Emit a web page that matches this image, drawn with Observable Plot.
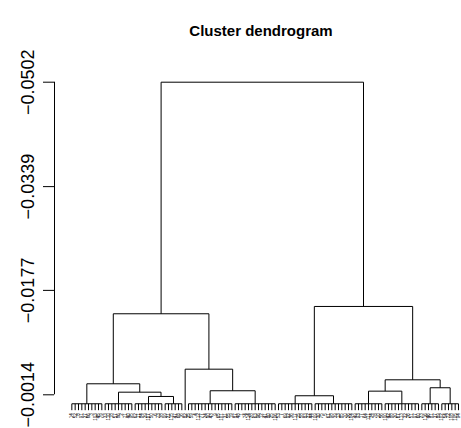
<!DOCTYPE html>
<html><head><meta charset="utf-8">
<script src="https://cdn.jsdelivr.net/npm/d3@7"></script>
<script src="https://cdn.jsdelivr.net/npm/@observablehq/plot@0.6"></script>
<style>body{margin:0;background:#fff;} svg{display:block;}</style>
</head><body><div id="chart"></div>
<script>
const chartTitle = "Cluster dendrogram";
const yTicks = [-0.0502, -0.0339, -0.0177, -0.0014];
// leaf groups (left to right), each joined at height ~0
const groupSizes = [10, 9, 9, 6, 1, 14, 13, 11, 12, 9, 11, 6, 6];
const leafLabels = [
  "14","52","8","91","27","66","3","103","45","79",
  "33","110","18","57","86","2","71","40","95",
  "62","11","84","29","107","50","6","73","38",
  "99","21","115","47","68","16",
  "82",
  "35","59","4","112","77","24","90","43","9","65","101","31","55","19",
  "87","48","1","74","114","28","63","96","12","41","80","25","106",
  "53","7","69","92","36","117","15","58","83","22","44",
  "109","30","75","5","61","98","39","13","85","70","26","104",
  "49","93","17","64","111","34","78","10","56",
  "100","42","88","20","67","113","32","76","51","97","60",
  "23","116","46","81","37","89",
  "102","54","72","108","105","94"
];
const combHeight = 0;
const leafTip = 0.001;
// merges: children are groups "g#" or earlier merges "m#"
const mergeLeft  = ["g2","g1","g0","g5","g4","m2","g7","g9","g11","m7","m6","m5"];
const mergeRight = ["g3","m0","m1","g6","m3","m4","g8","g10","g12","m8","m9","m10"];
const mergeHeight = [-0.00114, -0.00181, -0.00312, -0.00203, -0.0054, -0.01405,
                     -0.00125, -0.00197, -0.0025, -0.00374, -0.01519, -0.0502];
const xDomain = [-5.2, 116.9];

// build geometry in data units (x = leaf order index, y = height)
const segs = [];
const nodes = {};
let start = 0;
groupSizes.forEach((n, g) => {
  const first = start, last = start + n - 1;
  for (let i = first; i <= last; i++) segs.push({x1: i, y1: leafTip, x2: i, y2: n > 1 ? combHeight : leafTip});
  if (n > 1) segs.push({x1: first, y1: combHeight, x2: last, y2: combHeight});
  nodes["g" + g] = {x: (first + last) / 2, y: n > 1 ? combHeight : leafTip};
  start += n;
});
mergeHeight.forEach((h, m) => {
  const L = nodes[mergeLeft[m]], R = nodes[mergeRight[m]];
  segs.push({x1: L.x, y1: L.y, x2: L.x, y2: h});
  segs.push({x1: R.x, y1: R.y, x2: R.x, y2: h});
  segs.push({x1: L.x, y1: h, x2: R.x, y2: h});
  nodes["m" + m] = {x: (L.x + R.x) / 2, y: h};
});
const leaves = leafLabels.map((label, i) => ({i, label}));

const plot = Plot.plot({
  width: 461,
  height: 428,
  marginLeft: 54,
  marginRight: 0,
  marginTop: 0,
  marginBottom: 0,
  style: {fontFamily: "'Liberation Sans', Arial, sans-serif", background: "#fff", color: "#000"},
  x: {domain: xDomain, axis: null},
  y: {domain: [yTicks[0], yTicks[yTicks.length - 1]], range: [81.7, 394.3], axis: null},
  marks: [
    Plot.link(segs, {x1: "x1", y1: "y1", x2: "x2", y2: "y2", stroke: "#000", strokeWidth: 1}),
    Plot.text(leaves, {x: "i", y: () => leafTip, text: "label", rotate: -90, textAnchor: "end", dy: 3, fontSize: 4.6, fill: "#000"}),
    Plot.axisY(yTicks, {anchor: "left", tickSize: 11, tickFormat: () => "", label: null}),
    Plot.ruleX([xDomain[0]], {y1: () => yTicks[0], y2: () => yTicks[yTicks.length - 1], stroke: "#000"}),
    Plot.text(yTicks, {y: d => d, frameAnchor: "left", text: d => "\u2212" + Math.abs(d).toFixed(4), rotate: -90, textAnchor: "middle", lineAnchor: "middle", dx: -26, fontSize: 18, fill: "#000"}),
    Plot.text([chartTitle], {frameAnchor: "top", dy: 31, dx: 3, lineAnchor: "middle", fontSize: 15, fontWeight: "bold", fill: "#000"})
  ]
});
document.getElementById("chart").appendChild(plot);
</script>
</body></html>
